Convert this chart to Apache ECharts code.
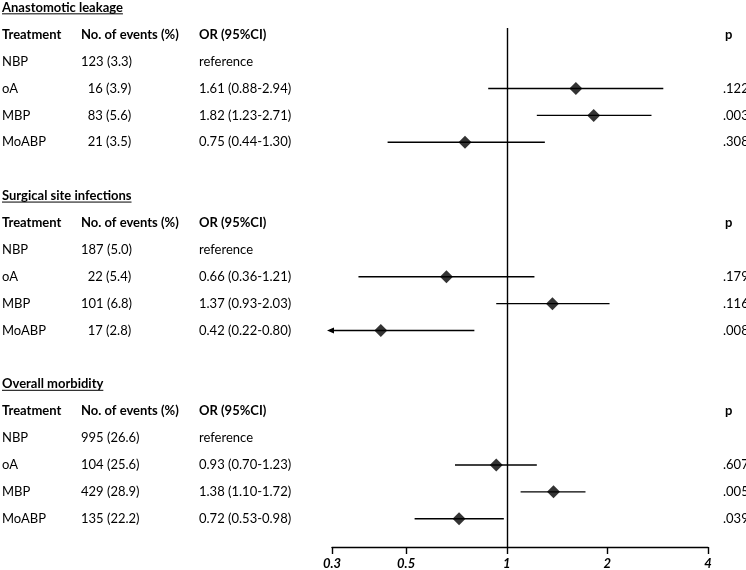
<!DOCTYPE html>
<html><head><meta charset="utf-8">
<script src="https://cdn.jsdelivr.net/npm/echarts@6/dist/echarts.min.js"></script>
<style>html,body{margin:0;padding:0;background:#fff}#c{width:746px;height:570px}</style>
</head><body><div id="c"></div>
<script>
// ---- data ----
const sectionTitles = ['Anastomotic leakage', 'Surgical site infections', 'Overall morbidity'];
const treatments = ['NBP', 'oA', 'MBP', 'MoABP'];
const headers = ['Treatment', 'No. of events (%)', 'OR (95%CI)', 'p'];

const leakCount = [123, 16, 83, 21];
const leakPct = [3.3, 3.9, 5.6, 3.5];
const leakOR = [null, 1.61, 1.82, 0.75];
const leakLo = [null, 0.88, 1.23, 0.44];
const leakHi = [null, 2.94, 2.71, 1.30];
const leakP = [null, 0.122, 0.003, 0.308];

const ssiCount = [187, 22, 101, 17];
const ssiPct = [5.0, 5.4, 6.8, 2.8];
const ssiOR = [null, 0.66, 1.37, 0.42];
const ssiLo = [null, 0.36, 0.93, 0.22];
const ssiHi = [null, 1.21, 2.03, 0.80];
const ssiP = [null, 0.179, 0.116, 0.008];

const morbCount = [995, 104, 429, 135];
const morbPct = [26.6, 25.6, 28.9, 22.2];
const morbOR = [null, 0.93, 1.38, 0.72];
const morbLo = [null, 0.70, 1.10, 0.53];
const morbHi = [null, 1.23, 1.72, 0.98];
const morbP = [null, 0.607, 0.005, 0.039];

const tickValues = [0.3, 0.5, 1, 2, 4];
const tickLabels = ['0.3', '0.5', '1', '2', '4'];

// ---- build ----
const sections = [
  {count: leakCount, pct: leakPct, or: leakOR, lo: leakLo, hi: leakHi, p: leakP},
  {count: ssiCount, pct: ssiPct, or: ssiOR, lo: ssiLo, hi: ssiHi, p: ssiP},
  {count: morbCount, pct: morbPct, or: morbOR, lo: morbLo, hi: morbHi, p: morbP}
];
const ROWS_PER_SECTION = 7;
const rowVal = (s, r) => s * ROWS_PER_SECTION + r; // r: 0 title, 1 header, 2.. treatments

const xMin = Math.log10(tickValues[0]);
const xMax = Math.log10(tickValues[tickValues.length - 1]);

const ciData = [], ptData = [];
sections.forEach((sec, s) => {
  treatments.forEach((t, i) => {
    if (sec.or[i] == null) return;
    const y = rowVal(s, i + 2);
    ciData.push([Math.log10(sec.lo[i]), Math.log10(sec.hi[i]), y]);
    ptData.push([Math.log10(sec.or[i]), y]);
  });
});

const FONT = 'Lato, "Open Sans", sans-serif';
const chart = echarts.init(document.getElementById('c'), null, {renderer: 'canvas'});

chart.setOption({
  backgroundColor: '#fff',
  animation: false,
  grid: {left: 332, right: 38, top: 28, bottom: 21, containLabel: false},
  xAxis: {
    type: 'value', min: xMin, max: xMax,
    splitLine: {show: false},
    axisLine: {show: true, onZero: false, lineStyle: {color: '#000', width: 1.4}},
    axisTick: {show: true, customValues: tickValues.map(Math.log10), length: 7, inside: false,
      lineStyle: {color: '#000', width: 1.4}},
    axisLabel: {
      show: true, customValues: tickValues.map(Math.log10), margin: 10,
      color: '#000', fontFamily: FONT, fontSize: 13, fontWeight: 'bold', fontStyle: 'italic',
      formatter: v => {
        let k = 0, best = Infinity;
        tickValues.forEach((tv, j) => { const d = Math.abs(Math.log10(tv) - v); if (d < best) { best = d; k = j; } });
        return tickLabels[k];
      }
    }
  },
  yAxis: {type: 'value', inverse: true, min: 0.75, max: 20.05, show: false},
  series: [
    {
      type: 'custom', clip: false, z: 2,
      encode: {x: [0, 1], y: 2},
      data: ciData,
      renderItem: (params, api) => {
        const lo = api.value(0), hi = api.value(1), y = api.value(2);
        const l = Math.max(lo, xMin);
        const p1 = api.coord([l, y]), p2 = api.coord([hi, y]);
        const children = [];
        let x1 = p1[0];
        if (lo < xMin) {
          const tip = p1[0] - 5;
          children.push({type: 'polygon', shape: {points: [[tip, p1[1]], [tip + 7, p1[1] - 3], [tip + 7, p1[1] + 3]]},
            style: {fill: '#000'}});
          x1 = tip + 3;
        }
        children.unshift({type: 'line', shape: {x1: x1, y1: p1[1], x2: p2[0], y2: p2[1]},
          style: {stroke: '#000', lineWidth: 1.4}});
        return {type: 'group', children};
      },
      markLine: {
        silent: true, symbol: 'none', label: {show: false},
        lineStyle: {color: '#000', width: 1.4, type: 'solid'},
        data: [{xAxis: 0}]
      }
    },
    {
      type: 'scatter', z: 3, symbol: 'diamond', symbolSize: 13,
      itemStyle: {color: '#000'},
      data: ptData
    }
  ]
});

// ---- table texts ----
const ctx = document.createElement('canvas').getContext('2d');
const yPx = v => chart.convertToPixel({yAxisIndex: 0}, v);
const COLX = [2, 81, 199];
const PX_HEAD = 725, PX_VAL = 723;
const g = [];
const txt = (s, x, y, bold) => {
  g.push({type: 'text', x: x, y: y, silent: true,
    style: {text: s, font: (bold ? 'bold ' : '') + '13px ' + FONT, fill: '#000', align: 'left', verticalAlign: 'middle'}});
};
sections.forEach((sec, s) => {
  const ty = yPx(rowVal(s, 0));
  txt(sectionTitles[s], COLX[0], ty, true);
  ctx.font = 'bold 13px ' + FONT;
  const w = ctx.measureText(sectionTitles[s]).width;
  g.push({type: 'line', silent: true, shape: {x1: COLX[0], y1: ty + 6, x2: COLX[0] + w, y2: ty + 6},
    style: {stroke: '#000', lineWidth: 1}});
  const hy = yPx(rowVal(s, 1));
  txt(headers[0], COLX[0], hy, true);
  txt(headers[1], COLX[1], hy, true);
  txt(headers[2], COLX[2], hy, true);
  txt(headers[3], PX_HEAD, hy, true);
  treatments.forEach((t, i) => {
    const y = yPx(rowVal(s, i + 2));
    txt(t, COLX[0], y, false);
    const cs = String(sec.count[i]);
    const pad = ' '.repeat((3 - cs.length) * 2);
    txt(pad + cs + ' (' + sec.pct[i].toFixed(1) + ')', COLX[1], y, false);
    const ors = sec.or[i] == null ? 'reference'
      : sec.or[i].toFixed(2) + ' (' + sec.lo[i].toFixed(2) + '-' + sec.hi[i].toFixed(2) + ')';
    txt(ors, COLX[2], y, false);
    if (sec.p[i] != null) txt(sec.p[i].toFixed(3).slice(1), PX_VAL, y, false);
  });
});
chart.setOption({graphic: g});
</script>
</body></html>
